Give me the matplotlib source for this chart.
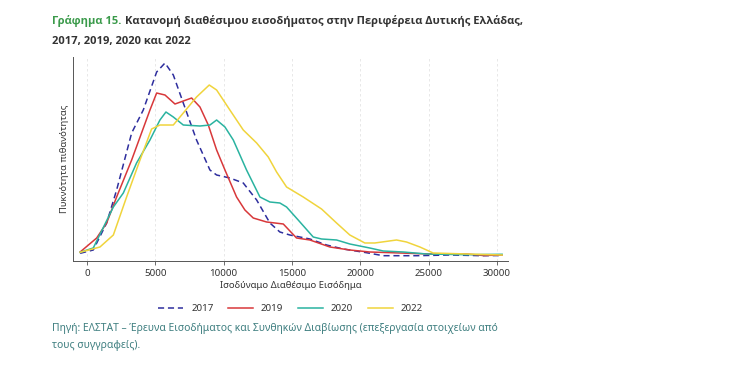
"""
Κατανομή διαθέσιμου εισοδήματος - Περιφέρεια Δυτικής Ελλάδας
"""
import matplotlib.pyplot as plt
import numpy as np

plt.rcParams['font.family'] = ['Noto Sans', 'DejaVu Sans']

# Income (x) and relative density (y)
x_2017 = [-500, 460, 1440, 2170, 3270, 4120, 5100, 5710, 6320, 7050, 8020, 9000, 9490,
          10460, 11440, 12420, 13390, 14120, 14850, 16320, 17540, 18760, 20460, 21680,
          24120, 26560, 29000, 30390]
y_2017 = [2.7, 6, 33, 66, 123, 146, 184, 193, 181, 153, 116, 86, 81,
          78, 73, 56, 33, 24, 21, 17, 11, 7, 3.3, 0.3,
          0.3, 1, 0.3, 0.5]

x_2019 = [-500, 710, 1440, 2170, 3270, 4610, 5100, 5710, 6440, 7660, 8270, 8880, 9490,
          10100, 10950, 11560, 12170, 13150, 14370, 15340, 16320, 17780, 19240, 20700,
          22900, 25100, 27780, 29000, 30390]
y_2019 = [4, 18, 33, 59, 96, 146, 163, 161, 152, 158, 149, 131, 106,
          86, 59, 46, 38, 34, 32, 18, 16, 9, 6, 4,
          3, 2, 2, 0.5, 1]

x_2020 = [-500, 460, 1930, 2660, 3630, 4610, 5340, 5780, 6320, 7050, 8270, 9000, 9490,
          10100, 10710, 11680, 12660, 13390, 14120, 14610, 15460, 16560, 17170, 18270,
          19240, 20700, 21680, 23150, 24850, 27780, 30390]
y_2020 = [3.7, 8, 49, 63, 93, 116, 136, 144, 139, 131, 130, 131, 136,
          129, 116, 86, 59, 54, 53, 49, 36, 19, 17, 16,
          12, 8, 5, 4, 2, 1.3, 1.7]

x_2022 = [-500, 950, 1930, 2900, 3880, 4730, 5340, 6320, 7050, 8020, 8950, 9490, 10460,
          11440, 12420, 13270, 13880, 14610, 15830, 17170, 18270, 19240, 20340, 21070,
          22660, 23390, 24370, 25340, 27780, 30390]
y_2022 = [3.7, 9, 21, 59, 96, 127, 131, 131, 143, 159, 171, 166, 146,
          126, 113, 99, 84, 69, 59, 47, 33, 21, 13, 13,
          16, 14, 9, 3, 2, 1]

years = ['2017', '2019', '2020', '2022']
xs = [x_2017, x_2019, x_2020, x_2022]
ys = [y_2017, y_2019, y_2020, y_2022]
colors = ['#2e2e9e', '#d8383a', '#2ab3a0', '#f0d43c']
styles = ['--', '-', '-', '-']

xticks = [0, 5000, 10000, 15000, 20000, 25000, 30000]

fig = plt.figure(figsize=(7.32, 3.69), dpi=100)
ax = fig.add_axes([0.0997, 0.2927, 0.5943, 0.5528])

for x, y, c, ls, lab in zip(xs, ys, colors, styles, years):
    ax.plot(x, y, color=c, linestyle=ls, linewidth=1.1, label=lab,
            dashes=(4, 2.5) if ls == '--' else (None, None))

ax.set_xlim(-1025, 30820)
ax.set_ylim(-5, 199)
ax.set_xticks(xticks)
ax.set_xticklabels([str(t) for t in xticks], fontsize=7, color='#333333')
ax.set_yticks([])
ax.tick_params(axis='x', length=3, width=0.6, color='#555555', pad=3)
for t in xticks:
    ax.axvline(t, color='#e4e4e4', linestyle=(0, (3, 3)), linewidth=0.6, zorder=0)

for s in ['top', 'right']:
    ax.spines[s].set_visible(False)
for s in ['left', 'bottom']:
    ax.spines[s].set_color('#555555')
    ax.spines[s].set_linewidth(0.7)

ax.set_xlabel('Ισοδύναμο Διαθέσιμο Εισόδημα', fontsize=6.8, color='#333333', labelpad=2)
ax.set_ylabel('Πυκνότητα πιθανότητας', fontsize=6.8, color='#333333', labelpad=3)

leg = ax.legend(loc='upper center', bbox_to_anchor=(0.5, -0.17), ncol=4, frameon=False,
                fontsize=7, handlelength=2.6, columnspacing=1.5, handletextpad=0.8)
for txt in leg.get_texts():
    txt.set_color('#333333')

# Title: green label followed by dark text on the same line
title_font = dict(fontsize=8.0, fontweight='bold', family=['Open Sans', 'DejaVu Sans'])
t1 = fig.text(0.071, 0.935, 'Γράφημα 15.', color='#3a9a4a', ha='left', va='baseline',
              **title_font)
fig.canvas.draw()
bb = t1.get_window_extent(renderer=fig.canvas.get_renderer())
x2 = (bb.x1 + 4) / fig.bbox.width
fig.text(x2, 0.935, 'Κατανομή διαθέσιμου εισοδήματος στην Περιφέρεια Δυτικής Ελλάδας,',
         color='#333333', ha='left', va='baseline', **title_font)
fig.text(0.071, 0.882, '2017, 2019, 2020 και 2022', color='#333333', ha='left',
         va='baseline', **title_font)

# Source
fig.text(0.071, 0.102, 'Πηγή: ΕΛΣΤΑΤ – Έρευνα Εισοδήματος και Συνθηκών Διαβίωσης '
         '(επεξεργασία στοιχείων από', fontsize=7.45, color='#3f7f80', ha='left', va='baseline')
fig.text(0.071, 0.056, 'τους συγγραφείς).', fontsize=7.45, color='#3f7f80',
         ha='left', va='baseline')

plt.savefig('out.png', dpi=100)
plt.close()
